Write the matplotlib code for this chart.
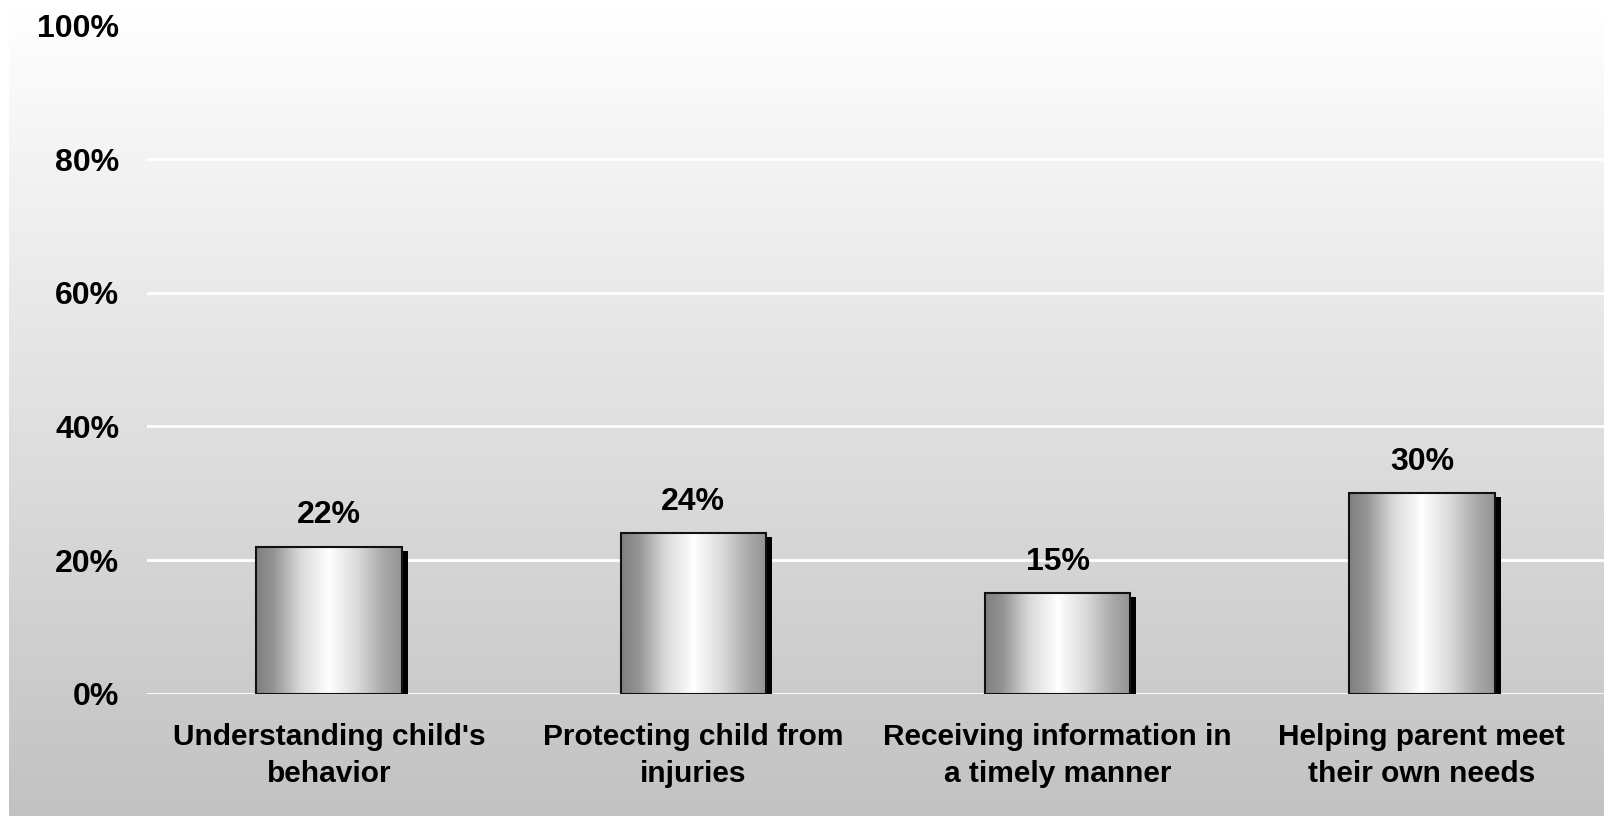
import numpy as np
import matplotlib
matplotlib.use("Agg")
import matplotlib.pyplot as plt
from matplotlib.patches import Rectangle
import matplotlib.transforms as mtransforms

categories = ["Understanding child's\nbehavior", "Protecting child from\ninjuries",
              "Receiving information in\na timely manner", "Helping parent meet\ntheir own needs"]
values = [22, 24, 15, 30]
yticks = [0, 20, 40, 60, 80, 100]
ytick_labels = ["0%", "20%", "40%", "60%", "80%", "100%"]

plt.rcParams['font.family'] = ['Liberation Sans', 'DejaVu Sans']
plt.rcParams['font.weight'] = 'bold'

W, H = 1604, 816
fig = plt.figure(figsize=(W / 100, H / 100), dpi=100)
fig.patch.set_facecolor('white')

# background gradient panel
bg = fig.add_axes([9 / W, 0, 1 - 9 / W, 1 - 7 / H])
bg.set_axis_off()
grad = np.linspace(1.0, 0.76, 256).reshape(-1, 1)
bg.imshow(np.dstack([grad, grad, grad]), aspect='auto', extent=[0, 1, 0, 1], origin='upper')
bg.set_xlim(0, 1); bg.set_ylim(0, 1)

ax = fig.add_axes([147 / W, 0.15, 1 - 147 / W, (693.6 - 25.6) / H])
ax.patch.set_alpha(0)
ax.set_xlim(-0.5, len(values) - 0.5)
ax.set_ylim(0, 100)
for s in ax.spines.values():
    s.set_visible(False)
ax.set_yticks(yticks)
ax.set_yticklabels(ytick_labels, fontsize=23, fontweight='bold')
ax.set_xticks(range(len(values)))
ax.set_xticklabels(categories, fontsize=21.5, fontweight='bold', linespacing=1.4)
ax.tick_params(axis='y', length=0, pad=20)
ax.tick_params(axis='x', length=0, pad=21)
ax.yaxis.grid(True, color='white', linewidth=2)
ax.set_axisbelow(True)

bw = 0.4
xs = np.linspace(0, 1, 256)
g = np.interp(xs, [0, 0.12, 0.3, 0.5, 0.7, 0.88, 1.0], [0.50, 0.58, 0.85, 1.0, 0.85, 0.66, 0.58])
bar_img = np.dstack([g, g, g]).reshape(1, -1, 3)

shadow_tr = ax.transData + mtransforms.ScaledTranslation(6 / 100, -4 / 100, fig.dpi_scale_trans)
for i, v in enumerate(values):
    x0 = i - bw / 2
    sh = Rectangle((x0, 0), bw, v, facecolor='black', edgecolor='none', transform=shadow_tr, zorder=2)
    ax.add_patch(sh)
    im = ax.imshow(bar_img, aspect='auto', extent=[x0, x0 + bw, 0, v], zorder=3, interpolation='bilinear')
    rect = Rectangle((x0, 0), bw, v, facecolor='none', edgecolor='#111111', linewidth=1.5, zorder=4)
    ax.add_patch(rect)
    im.set_clip_path(rect)
    ax.annotate(f"{v}%", (i, v), xytext=(0, 12), textcoords='offset points', ha='center', va='bottom',
                fontsize=23, fontweight='bold')

ax.set_xlim(-0.5, len(values) - 0.5)
ax.set_ylim(0, 100)
fig.savefig("out.png", dpi=100)
